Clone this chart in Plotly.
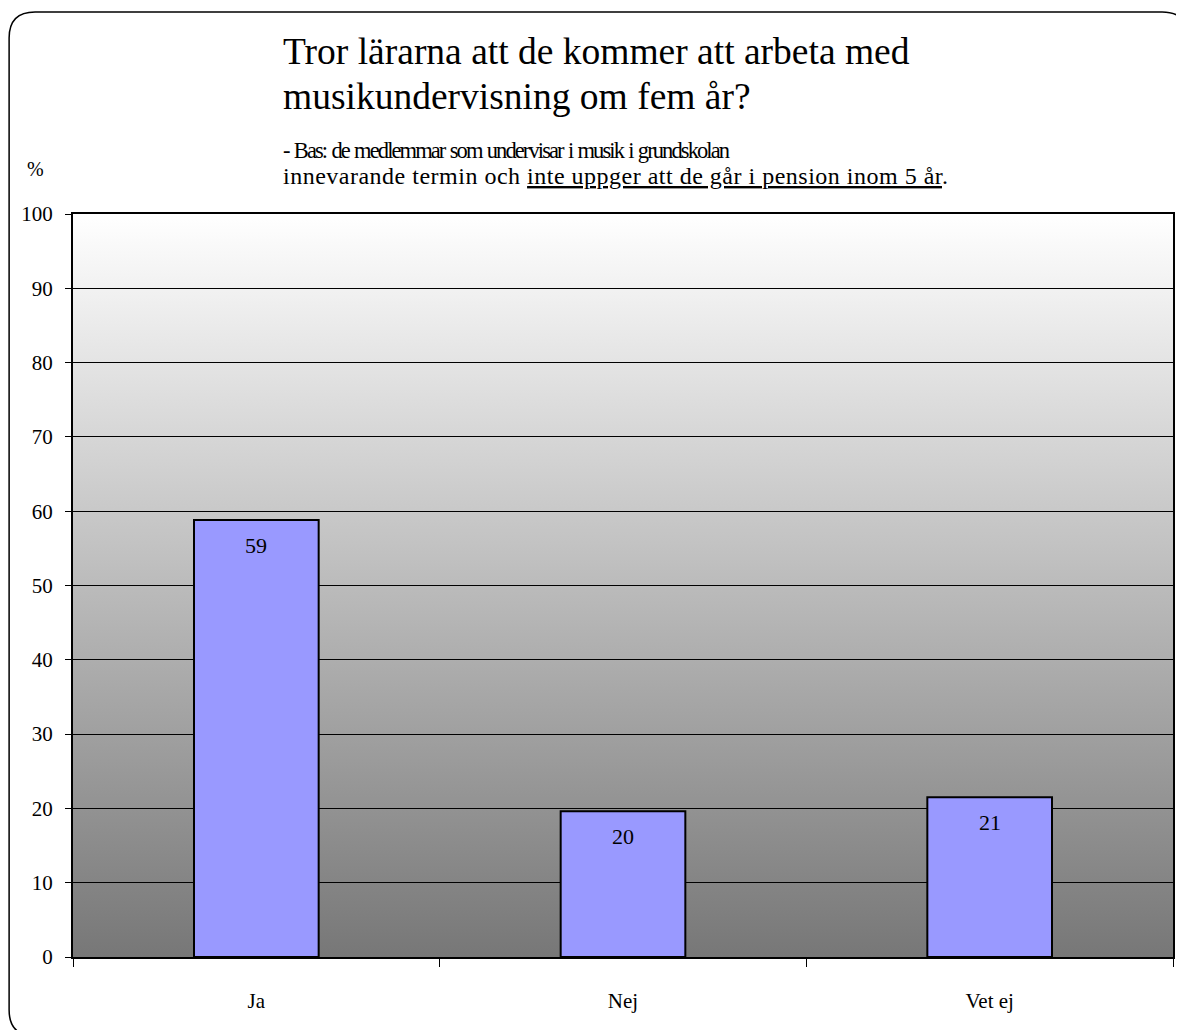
import base64
import plotly.graph_objects as go

# data
categories = ["Ja", "Nej", "Vet ej"]
values = [58.8, 19.6, 21.5]
labels = ["59", "20", "21"]
y_ticks = list(range(0, 101, 10))

title_lines = ["Tror lärarna att de kommer att arbeta med", "musikundervisning om fem år?"]
sub_line1 = "- Bas: de medlemmar som undervisar i musik i grundskolan"
sub_line2 = "innevarande termin och <u>inte uppger att de går i pension inom 5 år</u>."

OFF = 8  # page body margin puts the figure 8px in from the window corner
W, H = 1184 - OFF, 1030 - OFF
L, R, T, B = 73 - OFF, W - (1175 - OFF), 214 - OFF, H - (957 - OFF)
pw, ph = W - L - R, H - T - B

SERIF = "Liberation Serif"

# vertical white -> grey gradient for the plot area
svg = ('<svg xmlns="http://www.w3.org/2000/svg" width="100" height="100" preserveAspectRatio="none">'
       '<defs><linearGradient id="g" x1="0" y1="0" x2="0" y2="1">'
       '<stop offset="0" stop-color="#ffffff"/><stop offset="1" stop-color="#777777"/>'
       '</linearGradient></defs><rect width="100" height="100" fill="url(#g)"/></svg>')
bg_src = "data:image/svg+xml;base64," + base64.b64encode(svg.encode()).decode()


def px(x, y):
    # window pixel -> paper coordinates
    x, y = x - OFF, y - OFF
    return (x - L) / pw, (H - B - y) / ph


# rounded frame around the whole chart (runs off the right/bottom edge)
r = 26
x0, y0, x1, y1 = 9, 12, 1190, 1036
pts = {
    "a": px(x0, y0 + r), "b": px(x0 + r, y0), "c": px(x1 - r, y0), "d": px(x1, y0 + r),
    "e": px(x1, y1 - r), "f": px(x1 - r, y1), "g": px(x0 + r, y1), "h": px(x0, y1 - r),
    "tl": px(x0, y0), "tr": px(x1, y0), "br": px(x1, y1), "bl": px(x0, y1),
}
p = lambda k: f"{pts[k][0]:.5f},{pts[k][1]:.5f}"
frame_path = (f"M {p('a')} Q {p('tl')} {p('b')} L {p('c')} Q {p('tr')} {p('d')} "
              f"L {p('e')} Q {p('br')} {p('f')} L {p('g')} Q {p('bl')} {p('h')} Z")

fig = go.Figure()
fig.add_trace(go.Bar(
    x=categories, y=values, width=0.34,
    marker=dict(color="#9999ff", line=dict(color="black", width=2)),
    hoverinfo="x+y", showlegend=False,
))

for c, v, t in zip(categories, values, labels):
    fig.add_annotation(x=c, y=v, text=t, showarrow=False, yanchor="top", yshift=-11,
                       font=dict(family=SERIF, size=22, color="black"))


def text_line(txt, x, y, size, style=None):
    if style is not None:
        txt = f'<span style="{style}">{txt}</span>'
    fig.add_annotation(xref="paper", yref="paper", x=px(x, 0)[0], y=px(0, y)[1],
                       xanchor="left", yanchor="middle", align="left", showarrow=False,
                       text=txt, font=dict(family=SERIF, size=size, color="black"))


text_line(title_lines[0], 281, 52, 37.5)
text_line(title_lines[1], 281, 97, 37.5)
text_line(sub_line1, 281, 150, 22.5, "letter-spacing:-1.9px;word-spacing:1.5px")
text_line(sub_line2, 281, 176, 24, "letter-spacing:0.5px")

fig.add_annotation(xref="paper", yref="paper", x=px(35, 0)[0], y=px(0, 169)[1],
                   xanchor="center", yanchor="middle", showarrow=False, text="%",
                   font=dict(family=SERIF, size=20, color="black"))

fig.update_layout(
    width=W, height=H,
    margin=dict(l=L, r=R, t=T, b=B),
    paper_bgcolor="white", plot_bgcolor="rgba(0,0,0,0)",
    font=dict(family=SERIF, size=21, color="black"),
    bargap=0.66,
    images=[dict(source=bg_src, xref="paper", yref="paper", x=0, y=1, sizex=1, sizey=1,
                 xanchor="left", yanchor="top", sizing="stretch", layer="below")],
    shapes=[dict(type="path", path=frame_path, xref="paper", yref="paper",
                 line=dict(color="black", width=1.5), fillcolor="rgba(0,0,0,0)", layer="below")],
    xaxis=dict(
        type="category", showgrid=False, showline=True, linecolor="black", linewidth=2,
        mirror=True, ticks="outside", tickson="boundaries", ticklen=8, tickcolor="black",
        tickwidth=1, ticklabelstandoff=24, tickfont=dict(family=SERIF, size=21),
        fixedrange=True,
    ),
    yaxis=dict(
        range=[0, 100], tickvals=y_ticks, showgrid=True, gridcolor="black", gridwidth=1,
        showline=True, linecolor="black", linewidth=2, mirror=True, ticks="outside",
        ticklen=6, tickcolor="black", zeroline=False, ticklabelstandoff=8,
        tickfont=dict(family=SERIF, size=21), fixedrange=True,
    ),
)

fig.write_html("out.html")
